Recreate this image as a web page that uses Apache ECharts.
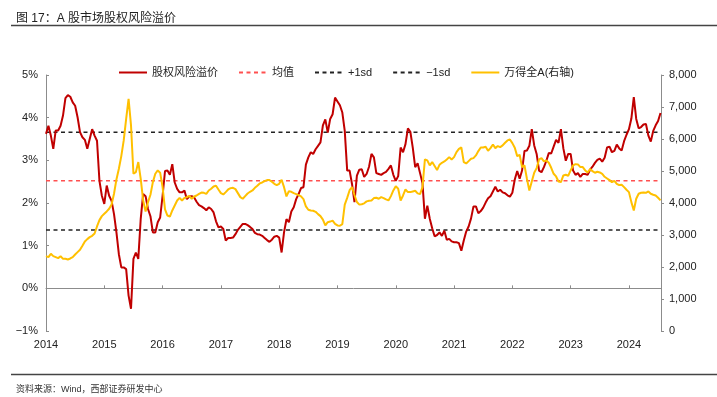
<!DOCTYPE html>
<html>
<head>
<meta charset="utf-8">
<title>A股市场股权风险溢价</title>
<script src="https://cdn.jsdelivr.net/npm/echarts@6.0.0/dist/echarts.min.js"></script>
<style>
    html, body { margin: 0; padding: 0; background: #fff; }
    #chart { width: 717px; height: 397px; }
</style>
</head>
<body>
<div id="chart"></div>
<script>
    // 半月度取点，2014年初开始
    var startYear = 2014;
    var pointsPerYear = 24;
    var xMax = 2024.55;

    // 股权风险溢价（%）
    var erp2014 = [3.62, 3.81, 3.58, 3.27, 3.70, 3.70, 3.81, 4.05, 4.46, 4.53, 4.49, 4.36, 4.28, 4.01, 3.66, 3.54, 3.48, 3.27, 3.50, 3.73, 3.58, 3.46, 2.52, 2.17];
    var erp2015 = [1.98, 2.41, 2.17, 2.05, 1.74, 1.31, 0.80, 0.49, 0.49, 0.45, -0.17, -0.48, 0.69, 0.84, 0.69, 1.63, 2.21, 2.16, 1.86, 1.69, 1.31, 1.31, 1.55, 1.66];
    var erp2016 = [2.17, 2.75, 2.76, 2.66, 2.91, 2.48, 2.33, 2.25, 2.25, 2.29, 2.09, 2.15, 2.16, 2.13, 2.03, 1.95, 1.92, 1.88, 1.83, 1.90, 1.86, 1.78, 1.57, 1.43];
    var erp2017 = [1.45, 1.39, 1.12, 1.18, 1.18, 1.19, 1.27, 1.37, 1.44, 1.51, 1.51, 1.48, 1.44, 1.39, 1.30, 1.27, 1.26, 1.23, 1.18, 1.13, 1.09, 1.14, 1.21, 1.23];
    var erp2018 = [1.19, 0.84, 1.31, 1.62, 1.55, 1.80, 1.90, 2.09, 2.21, 2.35, 2.37, 2.90, 3.07, 3.19, 3.15, 3.26, 3.34, 3.42, 3.82, 3.96, 3.65, 3.97, 4.08, 4.47];
    var erp2019 = [4.38, 4.29, 4.12, 3.69, 2.76, 2.76, 2.44, 2.02, 2.64, 2.78, 2.79, 2.61, 2.68, 2.85, 3.15, 3.07, 2.70, 2.68, 2.66, 2.70, 2.73, 2.80, 2.88, 2.66];
    var erp2020 = [2.52, 2.63, 3.30, 3.19, 3.38, 3.75, 3.67, 3.30, 2.84, 2.93, 2.70, 2.47, 1.63, 1.94, 1.63, 1.41, 1.22, 1.25, 1.31, 1.23, 1.35, 1.14, 1.16, 1.10];
    var erp2021 = [1.08, 1.08, 1.06, 0.88, 1.12, 1.33, 1.45, 1.64, 1.92, 1.92, 1.76, 1.81, 1.89, 2.01, 2.11, 2.16, 2.27, 2.38, 2.27, 2.31, 2.25, 2.23, 2.18, 2.15];
    var erp2022 = [2.24, 2.55, 2.75, 2.57, 2.76, 3.22, 3.23, 3.34, 3.73, 3.35, 3.15, 2.76, 2.72, 2.84, 2.99, 3.17, 3.16, 3.32, 3.48, 3.41, 3.73, 3.28, 2.99, 3.15];
    var erp2023 = [3.15, 2.76, 2.66, 2.70, 2.61, 2.68, 2.68, 2.66, 2.78, 2.85, 2.94, 3.01, 3.04, 2.97, 3.06, 3.30, 3.32, 3.19, 3.22, 3.37, 3.28, 3.23, 3.45, 3.60];
    var erp2024 = [3.73, 3.98, 4.48, 3.97, 3.75, 3.78, 3.84, 3.85, 3.58, 3.44, 3.69, 3.82, 3.92, 4.11];

    // 万得全A（右轴）
    var windA2014 = [2339, 2308, 2412, 2339, 2308, 2277, 2339, 2256, 2256, 2235, 2266, 2308, 2391, 2464, 2537, 2662, 2798, 2871, 2933, 2975, 3048, 3267, 3465, 3590];
    var windA2015 = [3663, 3736, 3819, 3955, 4288, 4736, 5069, 5465, 5955, 6632, 7257, 6424, 4913, 4965, 5278, 4757, 4080, 3736, 4028, 4257, 4652, 4913, 5017, 4944];
    var windA2016 = [4496, 3800, 3609, 3578, 3766, 3922, 4078, 4161, 4078, 4161, 4182, 4224, 4130, 4203, 4234, 4286, 4328, 4318, 4286, 4391, 4444, 4517, 4538, 4423];
    var windA2017 = [4309, 4267, 4340, 4423, 4465, 4475, 4434, 4309, 4184, 4132, 4215, 4298, 4350, 4392, 4475, 4538, 4611, 4642, 4684, 4715, 4715, 4663, 4600, 4559];
    var windA2018 = [4600, 4725, 4496, 4205, 4371, 4350, 4309, 4278, 4246, 4205, 4121, 3892, 3788, 3767, 3757, 3725, 3652, 3590, 3480, 3300, 3400, 3420, 3450, 3350];
    var windA2019 = [3300, 3290, 3340, 3950, 4160, 4400, 4500, 4250, 4030, 3950, 3960, 3990, 4050, 4070, 4080, 4153, 4163, 4132, 4184, 4153, 4111, 4080, 4215, 4392];
    var windA2020 = [4527, 4444, 4080, 4236, 4423, 4340, 4340, 4361, 4382, 4300, 4277, 4496, 5361, 5330, 5174, 5278, 5153, 5028, 5194, 5257, 5299, 5361, 5434, 5361];
    var windA2021 = [5434, 5590, 5694, 5736, 5278, 5236, 5309, 5382, 5403, 5486, 5622, 5736, 5736, 5757, 5632, 5715, 5830, 5715, 5778, 5747, 5799, 5882, 5955, 5986];
    var windA2022 = [5871, 5725, 5465, 5507, 5122, 5174, 4757, 4392, 4673, 4944, 5090, 5361, 5400, 5299, 5330, 5257, 5101, 4913, 4830, 4673, 4652, 4861, 4882, 4851];
    var windA2023 = [5017, 5174, 5215, 5205, 5122, 5122, 5017, 4955, 5059, 4996, 4944, 4975, 4955, 4913, 4819, 4767, 4715, 4652, 4694, 4600, 4559, 4569, 4496, 4413];
    var windA2024 = [4340, 4027, 3767, 4132, 4288, 4319, 4330, 4319, 4361, 4288, 4257, 4236, 4163, 4080];

    // 均值与±1倍标准差
    var erpMean = 2.52;
    var erpPlus1sd = 3.66;
    var erpMinus1sd = 1.37;

    var erpValues = [].concat(erp2014, erp2015, erp2016, erp2017, erp2018, erp2019,
        erp2020, erp2021, erp2022, erp2023, erp2024);
    var windAValues = [].concat(windA2014, windA2015, windA2016, windA2017, windA2018, windA2019,
        windA2020, windA2021, windA2022, windA2023, windA2024);

    function toSeries(values) {
        return values.map(function (v, i) {
            return [startYear + i / pointsPerYear, v];
        });
    }

    function flatLine(v) {
        return [[startYear, v], [xMax, v]];
    }

    var font = '"Liberation Sans", Arial, "Noto Sans CJK SC", sans-serif';
    var chart = echarts.init(document.getElementById('chart'));

    var option = {
        backgroundColor: '#fff',
        animation: false,
        textStyle: {fontFamily: font},
        title: [
            {
                text: '图 17：A 股市场股权风险溢价',
                left: 11,
                top: 8,
                textStyle: {fontSize: 12, fontWeight: 'normal', color: '#222', fontFamily: font}
            },
            {
                text: '资料来源：Wind，西部证券研发中心',
                left: 11,
                top: 380,
                textStyle: {fontSize: 9, fontWeight: 'normal', color: '#333', fontFamily: font}
            }
        ],
        graphic: [
            {type: 'line', shape: {x1: 11, y1: 25.5, x2: 717, y2: 25.5}, style: {stroke: '#444', lineWidth: 1.5}},
            {type: 'line', shape: {x1: 11, y1: 374.5, x2: 717, y2: 374.5}, style: {stroke: '#444', lineWidth: 1.5}}
        ],
        legend: {
            left: 113,
            top: 62,
            itemWidth: 28,
            itemHeight: 10,
            itemGap: 20,
            itemStyle: {opacity: 0},
            textStyle: {fontSize: 11, color: '#222', fontFamily: font},
            data: ['股权风险溢价', '均值', '+1sd', '−1sd', '万得全A(右轴)']
        },
        grid: {left: 46, right: 56, top: 75, bottom: 66},
        xAxis: [
            {
                type: 'value',
                min: startYear,
                max: xMax,
                interval: 1,
                axisLine: {show: false, onZero: false},
                axisTick: {show: false},
                splitLine: {show: false},
                axisLabel: {
                    fontSize: 11,
                    color: '#222',
                    margin: 8,
                    formatter: function (v) {
                        return Math.abs(v - Math.round(v)) < 1e-6 ? String(Math.round(v)) : '';
                    }
                }
            },
            {
                type: 'value',
                position: 'bottom',
                min: startYear,
                max: xMax,
                interval: 1,
                axisLine: {show: true, onZero: true, onZeroAxisIndex: 0, lineStyle: {color: '#8c8c8c', width: 1}},
                axisTick: {show: true, inside: true, length: 3, lineStyle: {color: '#8c8c8c'}},
                axisLabel: {show: false},
                splitLine: {show: false}
            }
        ],
        yAxis: [
            {
                type: 'value',
                min: -1,
                max: 5,
                interval: 1,
                axisLine: {show: true, lineStyle: {color: '#8c8c8c'}},
                axisTick: {show: true, inside: true, length: 3, lineStyle: {color: '#8c8c8c'}},
                splitLine: {show: false},
                axisLabel: {
                    fontSize: 11,
                    color: '#222',
                    margin: 8,
                    formatter: function (v) {
                        return (v < 0 ? '−' + (-v) : v) + '%';
                    }
                }
            },
            {
                type: 'value',
                min: 0,
                max: 8000,
                interval: 1000,
                axisLine: {show: true, lineStyle: {color: '#8c8c8c'}},
                axisTick: {show: true, inside: false, length: 3, lineStyle: {color: '#8c8c8c'}},
                splitLine: {show: false},
                axisLabel: {
                    fontSize: 11,
                    color: '#222',
                    margin: 8,
                    formatter: function (v) {
                        return String(v).replace(/\B(?=(\d{3})+(?!\d))/g, ',');
                    }
                }
            }
        ],
        series: [
            {
                name: '股权风险溢价',
                type: 'line',
                xAxisIndex: 0,
                yAxisIndex: 0,
                symbol: 'none',
                z: 3,
                lineStyle: {color: '#C00000', width: 2},
                itemStyle: {color: '#C00000'},
                data: toSeries(erpValues)
            },
            {
                name: '均值',
                type: 'line',
                yAxisIndex: 0,
                symbol: 'none',
                z: 1,
                lineStyle: {color: '#FF5050', width: 1.5, type: [4, 3.5]},
                itemStyle: {color: '#FF5050'},
                data: flatLine(erpMean)
            },
            {
                name: '+1sd',
                type: 'line',
                yAxisIndex: 0,
                symbol: 'none',
                z: 1,
                lineStyle: {color: '#222', width: 1.5, type: [4, 3.5]},
                itemStyle: {color: '#222'},
                data: flatLine(erpPlus1sd)
            },
            {
                name: '−1sd',
                type: 'line',
                yAxisIndex: 0,
                symbol: 'none',
                z: 1,
                lineStyle: {color: '#222', width: 1.5, type: [4, 3.5]},
                itemStyle: {color: '#222'},
                data: flatLine(erpMinus1sd)
            },
            {
                name: '万得全A(右轴)',
                type: 'line',
                yAxisIndex: 1,
                symbol: 'none',
                z: 4,
                lineStyle: {color: '#FFC000', width: 2},
                itemStyle: {color: '#FFC000'},
                data: toSeries(windAValues)
            }
        ]
    };

    chart.setOption(option);
</script>
</body>
</html>
